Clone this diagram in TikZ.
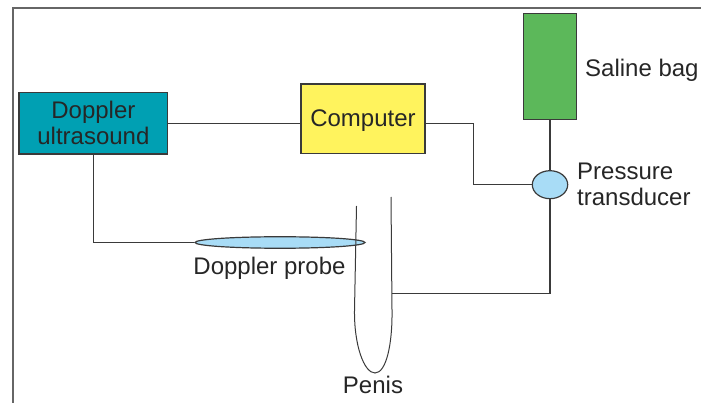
\documentclass[tikz,border=0pt]{standalone}
\usepackage{fontspec}
\setmainfont{Liberation Sans}
\usetikzlibrary{shapes.geometric}
\definecolor{dopteal}{HTML}{00A0B3}
\definecolor{compyellow}{HTML}{FFF35D}
\definecolor{baggreen}{HTML}{5CB85A}
\definecolor{lightblue}{HTML}{A8DCF6}
\definecolor{inkgray}{HTML}{3A3A3A}
\definecolor{framegray}{HTML}{666666}
\begin{document}
\begin{tikzpicture}[x=1pt,y=-1pt,
  lbl/.style={font=\fontsize{24}{26}\selectfont, text=black!85, inner sep=0pt},
  unit/.style={draw=inkgray, line width=1.2pt, inner sep=0pt, lbl},
  conn/.style={draw=inkgray, line width=1.2pt},
  frameline/.style={draw=framegray, line width=2pt}]
\useasboundingbox (0,0) rectangle (701,403);

% outer frame (top and left edges only)
\draw[frameline] (13,403) -- (13,8) -- (701,8);

% equipment
\node[unit, fill=dopteal, minimum width=148.7pt, minimum height=61.7pt, align=center]
  (du) at (93.4,123.2) {Doppler\\ultrasound};
\node[unit, fill=compyellow, minimum width=124pt, minimum height=69.3pt, text depth=0pt, text height=15pt]
  (comp) at (363,118.7) {Computer};
\node[unit, fill=baggreen, minimum width=53.7pt, minimum height=105.8pt]
  (bag) at (550,66.4) {};
\node[unit, ellipse, fill=lightblue, minimum width=35.4pt, minimum height=28pt]
  (pt) at (550,184.7) {};
\node[unit, ellipse, fill=lightblue, minimum width=170pt, minimum height=11.5pt]
  (probe) at (280,242.5) {};

% junction points
\coordinate (j1) at (473.3,184.7);
\coordinate (j2) at (391.6,293.5);

% connectors
\draw[conn] (du.east) -- (du.east -| comp.west);
\draw[conn] (comp.east |- du.east) -| (j1) -- (pt.west);
\draw[conn] (bag.south) -- (pt.north);
\draw[conn] (pt.south) |- (j2);
\draw[conn] (du.south) |- (probe.west);

% penis outline
\draw[conn, line width=1pt] (356.5,206) -- (354.5,310)
  .. controls (354,345) and (364,373) .. (375,373)
  .. controls (386,373) and (392.5,345) .. (392,310) -- (391,197);

% labels
\node[lbl, anchor=base west] (lbag) at (585,76.5) {Saline bag};
\node[lbl, anchor=base west] (lpt1) at (577,180) {Pressure};
\node[lbl, anchor=base west] (lpt2) at (577,206) {transducer};
\node[lbl, anchor=base] (lprobe) at (269.5,275) {Doppler probe};
\node[lbl, anchor=base] (lpenis) at (373,393) {Penis};
\end{tikzpicture}
\end{document}
